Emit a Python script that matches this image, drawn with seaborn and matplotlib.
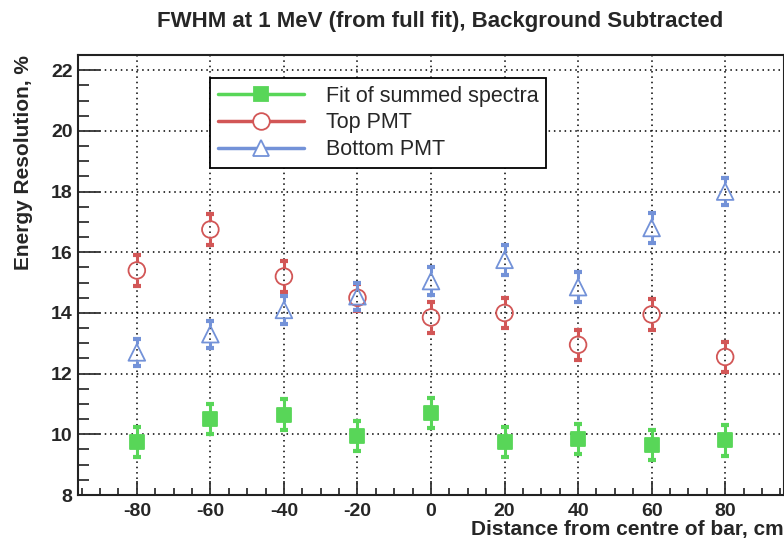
import numpy as np
import pandas as pd
import matplotlib
matplotlib.use('Agg')
import matplotlib.pyplot as plt
from matplotlib.lines import Line2D
from matplotlib.ticker import MultipleLocator
import seaborn as sns

# 數據
distance = [-80, -60, -40, -20, 0, 20, 40, 60, 80]
fit_summed = [9.75, 10.5, 10.65, 9.95, 10.7, 9.75, 9.85, 9.65, 9.8]
fit_summed_err = [0.5, 0.5, 0.5, 0.5, 0.5, 0.5, 0.5, 0.5, 0.5]
top_pmt = [15.4, 16.75, 15.2, 14.5, 13.85, 14.0, 12.95, 13.95, 12.55]
top_pmt_err = [0.5, 0.5, 0.5, 0.45, 0.5, 0.5, 0.5, 0.5, 0.5]
bottom_pmt = [12.7, 13.3, 14.1, 14.55, 15.05, 15.75, 14.85, 16.8, 18.0]
bottom_pmt_err = [0.45, 0.45, 0.45, 0.45, 0.45, 0.5, 0.5, 0.5, 0.45]

green = '#58d658'
red = '#d25656'
blue = '#7392d8'

sns.set_style('ticks')
plt.rcParams['font.family'] = ['Liberation Sans', 'DejaVu Sans']
plt.rcParams['axes.unicode_minus'] = False

fig = plt.figure(figsize=(7.84, 5.4), dpi=100)
ax = fig.add_axes([78 / 784, 45 / 540, 706 / 784, 440 / 540])

series = [
    ('Fit of summed spectra', fit_summed, fit_summed_err, green, 's', True, 10, 0.0),
    ('Top PMT', top_pmt, top_pmt_err, red, 'o', False, 12, 0.27),
    ('Bottom PMT', bottom_pmt, bottom_pmt_err, blue, '^', False, 12, 0.27),
]

handles = []
for name, vals, errs, col, mk, filled, ms, gap in series:
    df = pd.DataFrame({'x': distance, 'y': vals, 'e': errs})
    # 誤差棒（在空心標記處留空）
    ax.vlines(df['x'], df['y'] + gap, df['y'] + df['e'], color=col, lw=2.2, zorder=3)
    ax.vlines(df['x'], df['y'] - df['e'], df['y'] - gap, color=col, lw=2.2, zorder=3)
    ax.plot(df['x'], df['y'] + df['e'], ls='none', marker='_', ms=6, mew=3, color=col, zorder=3)
    ax.plot(df['x'], df['y'] - df['e'], ls='none', marker='_', ms=6, mew=3, color=col, zorder=3)
    sns.scatterplot(data=df, x='x', y='y', ax=ax, marker=mk, s=ms ** 2,
                    color=col if filled else 'none',
                    edgecolor=col, linewidth=1.3, zorder=4, legend=False)
    handles.append(Line2D([], [], color=col, lw=2.5, marker=mk, ms=ms,
                          mfc=col if filled else 'white', mec=col, mew=1.3, label=name))

ax.set_xlim(-96, 96)
ax.set_ylim(8, 22.5)
ax.xaxis.set_major_locator(MultipleLocator(20))
ax.xaxis.set_minor_locator(MultipleLocator(5))
ax.yaxis.set_major_locator(MultipleLocator(2))
ax.yaxis.set_minor_locator(MultipleLocator(0.5))
ax.grid(True, which='major', color='black', ls=(0, (1, 2.5)), lw=1.1)
ax.set_axisbelow(True)

ax.tick_params(axis='both', which='both', direction='in', color='#333333', width=1.3)
ax.tick_params(axis='y', which='major', length=16, pad=4)
ax.tick_params(axis='y', which='minor', length=8)
ax.tick_params(axis='x', which='major', length=10, pad=6)
ax.tick_params(axis='x', which='minor', length=5)
for lab in ax.get_xticklabels() + ax.get_yticklabels():
    lab.set_fontweight('bold')
    lab.set_fontsize(14)
for sp in ax.spines.values():
    sp.set_linewidth(1.5)
    sp.set_color('#222222')

ax.set_xlabel('')
ax.set_ylabel('')

fig.text(440 / 784, 1 - 21 / 540, 'FWHM at 1 MeV (from full fit), Background Subtracted',
         ha='center', va='center', fontsize=16, fontweight='bold')
fig.text(0.999, 1 - 529 / 540, 'Distance from centre of bar, cm',
         ha='right', va='center', fontsize=15, fontweight='bold')
fig.text(24 / 784, 1 - 55 / 540, 'Energy Resolution, %', rotation=90,
         ha='center', va='top', fontsize=15, fontweight='bold')

leg = ax.legend(handles=handles, loc='upper left',
                bbox_to_anchor=(210 / 784, 1 - 78 / 540), bbox_transform=fig.transFigure,
                fontsize=15.5, frameon=True, fancybox=False, handlelength=4.0,
                handletextpad=1.05, labelspacing=0.27, borderpad=0.35,
                borderaxespad=0)
leg.get_frame().set_edgecolor('black')
leg.get_frame().set_linewidth(1.3)
leg.get_frame().set_alpha(1)

fig.savefig('out.png', dpi=100)
